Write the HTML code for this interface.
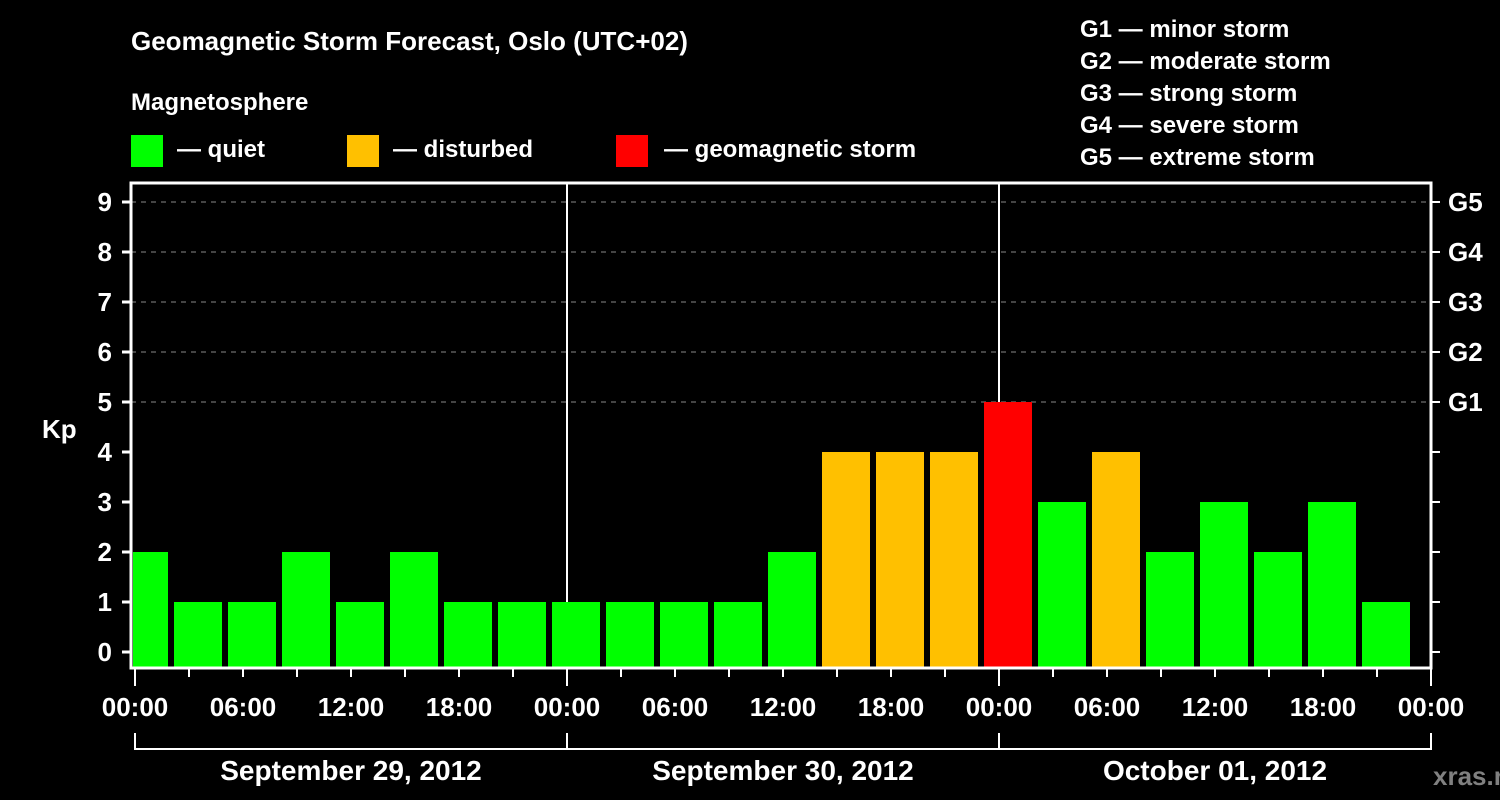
<!DOCTYPE html>
<html><head><meta charset="utf-8"><style>
html,body{margin:0;background:#000;width:1500px;height:800px;overflow:hidden}
svg{font-family:"Liberation Sans",sans-serif;font-weight:bold}
</style></head><body>
<svg width="1500" height="800" id="c">
<text x="131" y="50" fill="#fff" font-size="26">Geomagnetic Storm Forecast, Oslo (UTC+02)</text>
<text x="131" y="110" fill="#fff" font-size="24">Magnetosphere</text>
<g><rect x="131" y="135" width="32" height="32" fill="#00ff00"/><text x="177" y="157" fill="#fff" font-size="24">— quiet</text></g>
<g><rect x="347" y="135" width="32" height="32" fill="#ffc000"/><text x="393" y="157" fill="#fff" font-size="24">— disturbed</text></g>
<g><rect x="616" y="135" width="32" height="32" fill="#ff0000"/><text x="664" y="157" fill="#fff" font-size="24">— geomagnetic storm</text></g>
<g fill="#fff" font-size="24">
<text x="1080" y="37">G1 — minor storm</text><text x="1080" y="69">G2 — moderate storm</text><text x="1080" y="101">G3 — strong storm</text><text x="1080" y="133">G4 — severe storm</text><text x="1080" y="165">G5 — extreme storm</text></g>
<text x="42" y="438" fill="#fff" font-size="26">Kp</text>
<text x="1433" y="785" fill="#808080" font-size="26">xras.ru</text>
<g id="grid"></g><g id="bars"></g><g id="axes"></g>
</svg>
<script>
const kpValues=[2,1,1,2,1,2,1,1,1,1,1,1,2,4,4,4,5,3,4,2,3,2,3,1];
const firstBarHour=-1;
const yTicks=[0,1,2,3,4,5,6,7,8,9];
const gLabels=["G1","G2","G3","G4","G5"];
const timeLabels=["00:00","06:00","12:00","18:00"];
const dayLabels=["September 29, 2012","September 30, 2012","October 01, 2012"];
const NS="http://www.w3.org/2000/svg";
const L=131,R=1431,T=183,B=668,X0=135,PXH=18;
const x=h=>X0+h*PXH, y=v=>652-v*50;
function mk(p,tag,a){const e=document.createElementNS(NS,tag);for(const k in a)e.setAttribute(k,a[k]);p.appendChild(e);return e;}
const grid=document.getElementById('grid'),bars=document.getElementById('bars'),axes=document.getElementById('axes');
yTicks.forEach(v=>{if(v>=5){const g=mk(grid,'line',{x1:L,x2:R,y1:y(v),y2:y(v),stroke:'#888','stroke-dasharray':'5,5','stroke-width':1});

}});
for(let d=1;d<3;d++){const l=mk(grid,'line',{x1:x(d*24),x2:x(d*24),y1:T,y2:B,stroke:'#fff','stroke-width':2});

}
kpValues.forEach((v,i)=>{const h0=firstBarHour+i*3;let x1=Math.max(x(h0)+3,L+2),x2=x(h0+3)-3;
const c=v>=5?'#ff0000':(v>=4?'#ffc000':'#00ff00');
const r=mk(bars,'rect',{x:x1,y:y(v),width:x2-x1,height:667-y(v),fill:c});

});
const f=mk(axes,'rect',{x:L,y:T,width:R-L,height:B-T,fill:'none',stroke:'#fff','stroke-width':3});


yTicks.forEach(v=>{mk(axes,'line',{x1:122,x2:L,y1:y(v),y2:y(v),stroke:'#fff','stroke-width':3});
mk(axes,'line',{x1:R,x2:R+9,y1:y(v),y2:y(v),stroke:'#fff','stroke-width':2});
const t=mk(axes,'text',{x:112,y:y(v)+9,fill:'#fff','font-size':26,'text-anchor':'end'});t.textContent=v;

});
gLabels.forEach((g,i)=>{const t=mk(axes,'text',{x:1448,y:y(5+i)+9,fill:'#fff','font-size':26});t.textContent=g;

});
for(let h=0;h<=72;h+=3){mk(axes,'line',{x1:x(h),x2:x(h),y1:B,y2:h%24==0?686:677,stroke:'#fff','stroke-width':2});}
for(let h=0;h<=72;h+=6){const t=mk(axes,'text',{x:x(h),y:716,fill:'#fff','font-size':26,'text-anchor':'middle'});t.textContent=timeLabels[(h/6)%4];

}
mk(axes,'line',{x1:x(0),x2:x(72),y1:749,y2:749,stroke:'#fff','stroke-width':2});
for(let d=0;d<=3;d++)mk(axes,'line',{x1:x(d*24),x2:x(d*24),y1:733,y2:750,stroke:'#fff','stroke-width':2});
dayLabels.forEach((s,d)=>{const t=mk(axes,'text',{x:x(d*24+12),y:780,fill:'#fff','font-size':28,'text-anchor':'middle'});t.textContent=s;

});
</script>
</body></html>
